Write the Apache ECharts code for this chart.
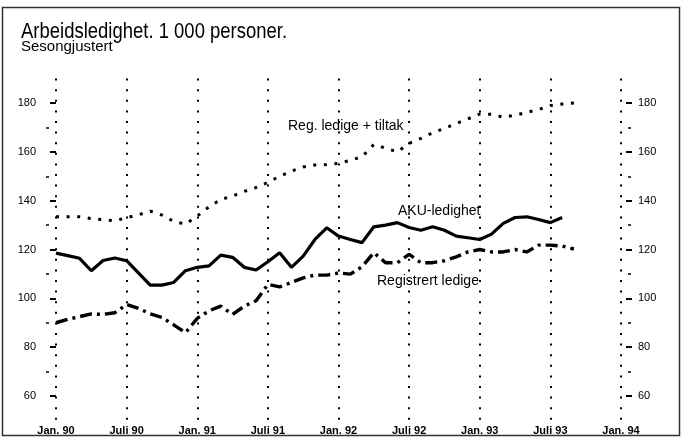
<!DOCTYPE html>
<html>
<head>
<meta charset="utf-8">
<script src="https://cdn.jsdelivr.net/npm/echarts@6/dist/echarts.min.js"></script>
<style>
html,body{margin:0;padding:0;background:#fff;}
#c{width:682px;height:437px;}
</style>
</head>
<body>
<div id="c"></div>
<script>
// Months counted from Jan. 90 (index 0)
var tickLabels = ['Jan. 90','Juli 90','Jan. 91','Juli 91','Jan. 92','Juli 92','Jan. 93','Juli 93','Jan. 94'];
var yMajorTicks = [60,80,100,120,140,160,180];
var yMinorTicks = [70,90,110,130,150,170];
var akuLedighet = [118.5,117.5,116.4,111.3,115.5,116.5,115.4,110.4,105.4,105.4,106.5,111.3,
  112.7,113.3,117.7,116.8,112.7,111.6,115.0,118.7,112.7,117.3,124.1,128.9,
  125.5,124.1,122.8,129.3,130.0,131.0,129.0,127.9,129.3,127.9,125.5,124.8,
  124.1,126.3,130.7,133.1,133.4,132.3,131.0,133.1];
var registrertLedige = [90.0,91.4,92.5,93.6,93.4,94.1,97.5,95.9,93.6,92.2,89.1,85.9,
  91.8,94.9,96.8,93.4,96.8,99.0,105.7,104.7,106.5,108.4,109.5,109.5,
  110.4,109.9,112.9,118.7,114.6,114.6,118.0,114.6,114.6,115.4,117.0,119.0,
  120.0,119.0,119.0,120.0,119.0,121.8,121.8,121.4,120.2];
var regLedigeTiltak = [133.4,133.4,133.4,132.7,132.2,131.8,133.0,134.2,135.7,134.1,131.5,130.4,
  133.7,137.5,140.5,141.9,143.8,145.4,147.5,150.0,152.1,153.8,154.6,154.8,
  155.3,156.5,158.0,163.0,161.5,160.0,163.5,165.5,167.8,169.6,171.6,173.5,
  175.5,175.4,174.2,175.0,176.2,177.3,179.0,179.6,180.0];

function pairs(arr){ return arr.map(function(v,i){ return [i, v]; }); }

var FONT = "'Liberation Sans', Arial, Helvetica, sans-serif";
var chart = echarts.init(document.getElementById('c'), null, {renderer:'canvas'});

function yAxisDef(pos, offset, len, width, ticks, labelled, margin){
  return {
    type:'value', min:50, max:190, interval:10, position:pos, offset:offset,
    axisLine:{show:false}, splitLine:{show:false},
    axisTick:{show:true, length:len, customValues:ticks, lineStyle:{color:'#000', width:width}},
    axisLabel:{show:labelled, customValues:ticks, color:'#000', fontFamily:FONT, fontSize:11, margin:margin}
  };
}

var option = {
  animation:false,
  backgroundColor:'#fff',
  grid:{left:56, right:61, top:78.6, bottom:16.6, containLabel:false},
  xAxis:{
    type:'value', min:0, max:48, interval:6,
    axisLine:{show:false}, axisTick:{show:false},
    axisLabel:{
      color:'#000', fontFamily:FONT, fontSize:11, fontWeight:'bold', margin:5,
      formatter:function(v){ return tickLabels[v/6] || ''; }
    },
    splitLine:{show:true, lineStyle:{color:'#000', width:2, type:[2,8.6]}}
  },
  yAxis:[
    yAxisDef('left', 4, 6, 2, yMajorTicks, true, 16),
    yAxisDef('left', 7, 3, 1.5, yMinorTicks, false, 8),
    yAxisDef('right', 5, 6, 2, yMajorTicks, true, 12),
    yAxisDef('right', 7, 3, 1.5, yMinorTicks, false, 8)
  ],
  series:[
    {name:'Reg. ledige + tiltak', type:'line', data:pairs(regLedigeTiltak), showSymbol:false,
     lineStyle:{color:'#000', width:3, type:[3,7.6], cap:'butt'}},
    {name:'AKU-ledighet', type:'line', data:pairs(akuLedighet), showSymbol:false,
     lineStyle:{color:'#000', width:3.2}},
    {name:'Registrert ledige', type:'line', data:pairs(registrertLedige), showSymbol:false,
     lineStyle:{color:'#000', width:3.4, type:[12,5,3,5]}}
  ],
  graphic:[
    {type:'rect', shape:{x:2.5, y:7.5, width:677, height:428}, silent:true,
     style:{fill:'none', stroke:'#333', lineWidth:1.5}, z:-1},
    {type:'text', x:21, y:31.5, scaleX:0.84, silent:true,
     style:{text:'Arbeidsledighet. 1 000 personer.', fill:'#000',
       font:"22px 'Liberation Sans', Arial, sans-serif", textVerticalAlign:'middle'}},
    {type:'text', x:21, y:46.5, silent:true,
     style:{text:'Sesongjustert', fill:'#000',
       font:"15px 'Liberation Sans', Arial, sans-serif", textVerticalAlign:'middle'}},
    {type:'text', x:288, y:126, silent:true,
     style:{text:'Reg. ledige + tiltak', fill:'#000',
       font:"14px 'Liberation Sans', Arial, sans-serif", textVerticalAlign:'middle'}},
    {type:'text', x:398, y:211.5, silent:true,
     style:{text:'AKU-ledighet', fill:'#000',
       font:"14px 'Liberation Sans', Arial, sans-serif", textVerticalAlign:'middle'}},
    {type:'text', x:377, y:281.5, silent:true,
     style:{text:'Registrert ledige', fill:'#000',
       font:"14px 'Liberation Sans', Arial, sans-serif", textVerticalAlign:'middle'}}
  ]
};
chart.setOption(option);
</script>
</body>
</html>
